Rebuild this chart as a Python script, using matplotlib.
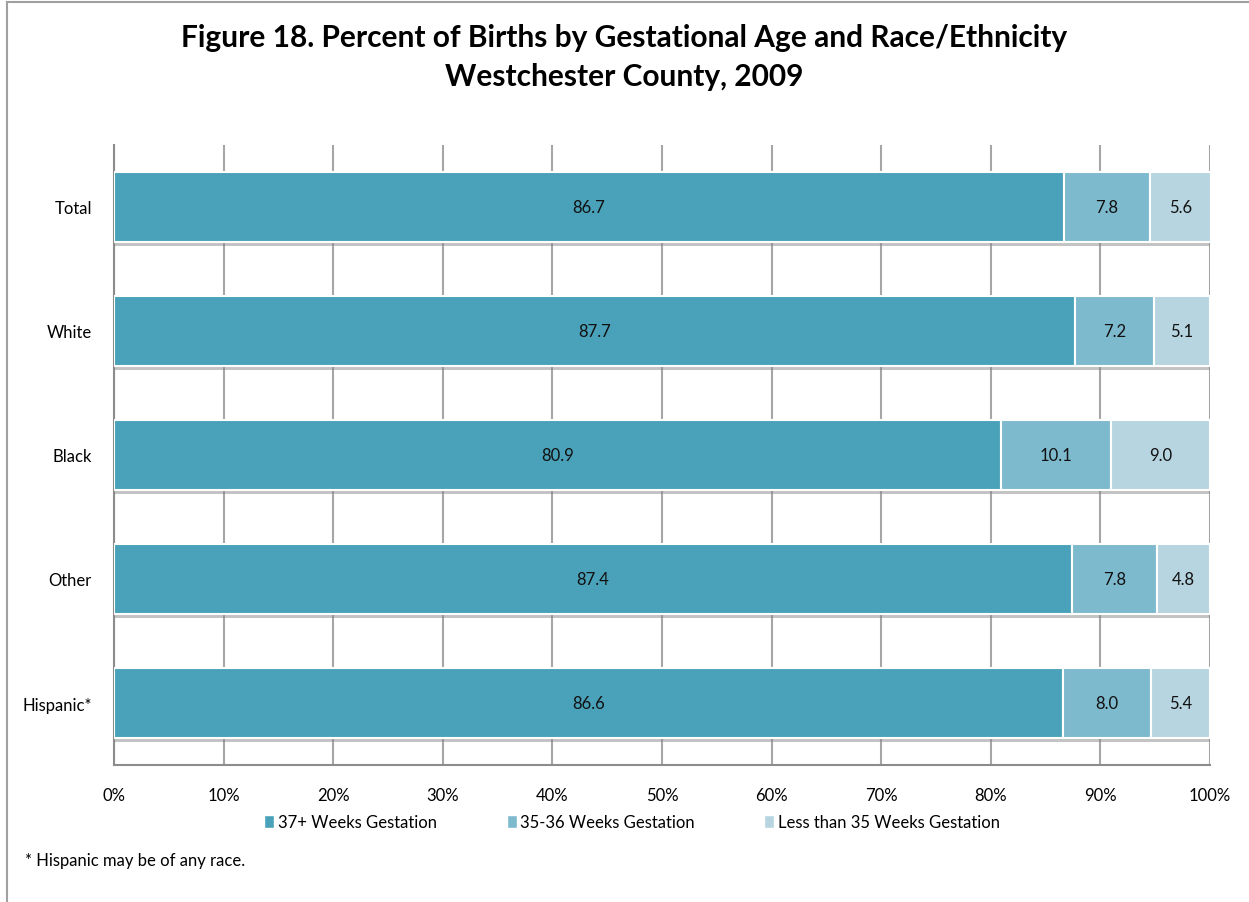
import matplotlib
matplotlib.use("Agg")
import matplotlib.pyplot as plt
import matplotlib.patheffects as pe
from matplotlib.lines import Line2D
import numpy as np

categories = ["Total", "White", "Black", "Other", "Hispanic*"]
wk37 = [86.7, 87.7, 80.9, 87.4, 86.6]
wk35_36 = [7.8, 7.2, 10.1, 7.8, 8.0]
lt35 = [5.6, 5.1, 9.0, 4.8, 5.4]
series_names = ["37+ Weeks Gestation", "35-36 Weeks Gestation", "Less than 35 Weeks Gestation"]
colors = ["#4AA2BA", "#7EBACE", "#B7D5E0"]
xticks = [0, 10, 20, 30, 40, 50, 60, 70, 80, 90, 100]

plt.rcParams['font.family'] = ['Lato', 'DejaVu Sans']

fig = plt.figure(figsize=(12.49, 9.03), dpi=100)
ax = fig.add_axes([114/1249, 1-766/903, (1210-114)/1249, (766-146)/903])

y = np.arange(len(categories))
left = np.zeros(len(categories))
shadow = [pe.SimplePatchShadow(offset=(0, -3), shadow_rgbFace='#888888', alpha=0.5), pe.Normal()]
for vals, col, name in zip([wk37, wk35_36, lt35], colors, series_names):
    bars = ax.barh(y, vals, left=left, height=0.565, color=col, edgecolor='white',
                   linewidth=1.5, label=name, zorder=3)
    for b in bars:
        b.set_path_effects(shadow)
    for yi, l, v in zip(y, left, vals):
        ax.text(l + v / 2, yi, f"{v:.1f}", ha='center', va='center', fontsize=12,
                color='#111111', zorder=4)
    left = left + np.array(vals)

ax.set_xlim(0, 100)
ax.set_ylim(len(categories) - 0.5, -0.5)
ax.set_xticks(xticks)
ax.set_xticklabels([f"{t}%" for t in xticks], fontsize=12)
ax.set_yticks(y)
ax.set_yticklabels(categories, fontsize=12)
ax.tick_params(axis='y', which='major', length=0, pad=16)
ax.tick_params(axis='x', length=0, pad=16)
ax.xaxis.grid(True, color='#A6A6A6', linewidth=1.5, zorder=0)
ax.set_axisbelow(True)
for s in ['top', 'right']:
    ax.spines[s].set_visible(False)
for s in ['left', 'bottom']:
    ax.spines[s].set_color('#8C8C8C')
    ax.spines[s].set_linewidth(1.5)

fig.text(0.5, 1 - 38/903, "Figure 18. Percent of Births by Gestational Age and Race/Ethnicity",
         ha='center', va='center', fontsize=21.5, fontweight='bold')
fig.text(0.5, 1 - 77/903, "Westchester County, 2009",
         ha='center', va='center', fontsize=21.5, fontweight='bold')

handles = [plt.Rectangle((0, 0), 1, 1, facecolor=c, edgecolor='white') for c in colors]
leg = fig.legend(handles, series_names, loc='center', bbox_to_anchor=(632/1249, 1 - 823/903),
                 ncol=3, frameon=False, fontsize=12, handlelength=0.6, handleheight=0.8,
                 handletextpad=0.2, columnspacing=4.2)

fig.text(25/1249, 1 - 861/903, "* Hispanic may be of any race.", ha='left', va='center', fontsize=12)

fig.add_artist(Line2D([7/1249, 7/1249], [0, 1 - 3/903], transform=fig.transFigure, color='#A0A0A0', lw=1.5))
fig.add_artist(Line2D([7/1249, 1], [1 - 3/903, 1 - 3/903], transform=fig.transFigure, color='#A0A0A0', lw=1.5))

fig.savefig("out.png", dpi=100)
